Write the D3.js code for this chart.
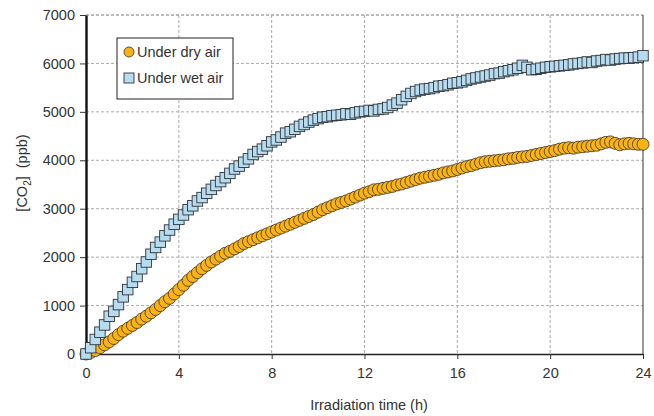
<!DOCTYPE html>
<html>
<head>
<meta charset="utf-8">
<script src="https://cdn.jsdelivr.net/npm/d3@7"></script>
<style>
  body { margin: 0; background: #fff; }
  text { font-family: "Liberation Sans", Arial, sans-serif; fill: #333; }
</style>
</head>
<body>
<script>
// Chart data
var timeHours = [
  0, 0.2, 0.4, 0.6, 0.8, 1, 1.2, 1.4, 1.6, 1.8, 2, 2.2, 2.4, 2.6, 2.8, 3, 3.2, 3.4, 3.6, 3.8,
  4, 4.2, 4.4, 4.6, 4.8, 5, 5.2, 5.4, 5.6, 5.8, 6, 6.2, 6.4, 6.6, 6.8, 7, 7.2, 7.4, 7.6, 7.8,
  8, 8.2, 8.4, 8.6, 8.8, 9, 9.2, 9.4, 9.6, 9.8, 10, 10.2, 10.4, 10.6, 10.8, 11, 11.2, 11.4, 11.6, 11.8,
  12, 12.2, 12.4, 12.6, 12.8, 13, 13.2, 13.4, 13.6, 13.8, 14, 14.2, 14.4, 14.6, 14.8, 15, 15.2, 15.4, 15.6, 15.8,
  16, 16.2, 16.4, 16.6, 16.8, 17, 17.2, 17.4, 17.6, 17.8, 18, 18.2, 18.4, 18.6, 18.8, 19, 19.2, 19.4, 19.6, 19.8,
  20, 20.2, 20.4, 20.6, 20.8, 21, 21.2, 21.4, 21.6, 21.8, 22, 22.2, 22.4, 22.6, 22.8, 23, 23.2, 23.4, 23.6, 23.8,
  24
];

var dryAir = [
  0, 30, 70, 130, 190, 250, 320, 400, 470, 530, 590, 650, 720, 780, 850, 920, 1000, 1080, 1150, 1240,
  1330, 1420, 1520, 1600, 1680, 1760, 1830, 1900, 1960, 2020, 2080, 2120, 2170, 2220, 2280, 2320, 2360, 2400, 2440, 2480,
  2520, 2560, 2600, 2640, 2680, 2720, 2760, 2800, 2840, 2880, 2930, 2980, 3020, 3060, 3100, 3130, 3160, 3200, 3240, 3280,
  3320, 3350, 3390, 3400, 3420, 3440, 3460, 3490, 3510, 3540, 3570, 3600, 3630, 3650, 3670, 3690, 3710, 3740, 3760, 3780,
  3810, 3840, 3870, 3890, 3920, 3950, 3970, 3980, 3990, 4000, 4010, 4030, 4040, 4060, 4070, 4080, 4100, 4120, 4140, 4160,
  4180, 4200, 4230, 4250, 4260, 4250, 4270, 4280, 4290, 4300, 4310, 4340, 4370, 4380, 4350, 4320, 4340, 4350, 4340, 4330,
  4330
];

var wetAir = [
  0, 130, 300, 450, 600, 780, 880, 1020, 1180, 1330, 1480, 1600, 1760, 1900, 2060, 2200, 2310, 2440, 2560, 2680,
  2780, 2870, 2980, 3060, 3160, 3230, 3320, 3400, 3480, 3560, 3640, 3730, 3820, 3880, 3960, 4030, 4120, 4180, 4230, 4300,
  4380, 4420, 4480, 4560, 4590, 4640, 4700, 4740, 4790, 4830, 4860, 4890, 4900, 4920, 4930, 4940, 4960, 4950, 4980, 5000,
  5010, 5030, 5020, 5050, 5060, 5090, 5140, 5180, 5250, 5320, 5380, 5420, 5450, 5470, 5480, 5500, 5530, 5540, 5560, 5590,
  5600, 5620, 5650, 5680, 5700, 5720, 5740, 5760, 5790, 5800, 5830, 5850, 5870, 5900, 5960, 5920, 5870, 5880, 5900, 5920,
  5930, 5940, 5950, 5960, 5970, 5990, 6000, 6010, 6030, 6020, 6050, 6060, 6080, 6070, 6090, 6100, 6110, 6110, 6120, 6130,
  6160
];

var xTicks = [0, 4, 8, 12, 16, 20, 24];
var yTicks = [0, 1000, 2000, 3000, 4000, 5000, 6000, 7000];
var seriesNames = ["Under dry air", "Under wet air"];

// SVG area
var svgWidth = 654;
var svgHeight = 416;

var chartMargin = { top: 15, right: 11, bottom: 62, left: 86 };
var chartWidth = svgWidth - chartMargin.left - chartMargin.right;
var chartHeight = svgHeight - chartMargin.top - chartMargin.bottom;

var svg = d3.select("body")
  .append("svg")
  .attr("width", svgWidth)
  .attr("height", svgHeight);

var chartGroup = svg.append("g")
  .attr("transform", `translate(${chartMargin.left}, ${chartMargin.top})`);

var xScale = d3.scaleLinear().domain([0, 24]).range([0, chartWidth]);
var yScale = d3.scaleLinear().domain([0, 7000]).range([chartHeight, 0]);

// dashed grid
chartGroup.selectAll(".hgrid")
  .data(yTicks.filter(d => d > 0))
  .enter()
  .append("line")
  .attr("x1", 0).attr("x2", chartWidth)
  .attr("y1", d => yScale(d)).attr("y2", d => yScale(d))
  .attr("stroke", d => d === 7000 ? "#777" : "#aaa")
  .attr("stroke-width", 1)
  .attr("stroke-dasharray", "3,2");

chartGroup.selectAll(".vgrid")
  .data(xTicks.filter(d => d > 0 && d < 24))
  .enter()
  .append("line")
  .attr("y1", 0).attr("y2", chartHeight)
  .attr("x1", d => xScale(d)).attr("x2", d => xScale(d))
  .attr("stroke", "#aaa")
  .attr("stroke-width", 1)
  .attr("stroke-dasharray", "3,2");

// right border
chartGroup.append("line")
  .attr("x1", chartWidth).attr("x2", chartWidth)
  .attr("y1", 0).attr("y2", chartHeight)
  .attr("stroke", "#333")
  .attr("stroke-width", 1);

// axes
var bottomAxis = d3.axisBottom(xScale).tickValues(xTicks).tickFormat(d3.format("d"))
  .tickSize(5).tickPadding(9).tickSizeOuter(0);
var leftAxis = d3.axisLeft(yScale).tickValues(yTicks).tickFormat(d3.format("d"))
  .tickSize(6).tickPadding(5).tickSizeOuter(0);

var xAxisG = chartGroup.append("g")
  .attr("transform", `translate(0, ${chartHeight})`)
  .call(bottomAxis);
xAxisG.select(".domain").attr("stroke", "#222").attr("stroke-width", 1.6);
xAxisG.selectAll(".tick line").attr("stroke", "#333");
xAxisG.selectAll("text").style("font-size", "14.5px").attr("fill", "#333")
  .style("font-family", "'Liberation Sans', Arial, sans-serif");

var yAxisG = chartGroup.append("g").call(leftAxis);
yAxisG.select(".domain").attr("stroke", "#111").attr("stroke-width", 2.4);
yAxisG.selectAll(".tick line").attr("stroke", "#333");
yAxisG.selectAll("text").style("font-size", "14.5px").attr("fill", "#333")
  .style("font-family", "'Liberation Sans', Arial, sans-serif");

// series
var dryData = timeHours.map((t, i) => ({ t: t, v: dryAir[i] }));
var wetData = timeHours.map((t, i) => ({ t: t, v: wetAir[i] }));

chartGroup.selectAll(".dry")
  .data(dryData)
  .enter()
  .append("circle")
  .attr("class", "dry")
  .attr("cx", d => xScale(d.t))
  .attr("cy", d => yScale(d.v))
  .attr("r", 6)
  .attr("fill", "#F9B317")
  .attr("stroke", "#3a3020")
  .attr("stroke-width", 0.8);

var sq = 10.5;
chartGroup.selectAll(".wet")
  .data(wetData)
  .enter()
  .append("rect")
  .attr("class", "wet")
  .attr("x", d => xScale(d.t) - sq / 2)
  .attr("y", d => yScale(d.v) - sq / 2)
  .attr("width", sq)
  .attr("height", sq)
  .attr("fill", "#B7DCF0")
  .attr("stroke", "#2e3338")
  .attr("stroke-width", 0.9);

// legend
var legend = svg.append("g");
legend.append("rect")
  .attr("x", 117).attr("y", 38)
  .attr("width", 116).attr("height", 61)
  .attr("fill", "#fff")
  .attr("stroke", "#222")
  .attr("stroke-width", 1);

legend.append("circle")
  .attr("cx", 129).attr("cy", 52).attr("r", 5)
  .attr("fill", "#F9B317").attr("stroke", "#3a3020").attr("stroke-width", 0.8);
legend.append("rect")
  .attr("x", 124).attr("y", 73).attr("width", 10).attr("height", 10)
  .attr("fill", "#B7DCF0").attr("stroke", "#2e3338").attr("stroke-width", 0.9);

legend.selectAll(".ltext")
  .data(seriesNames)
  .enter()
  .append("text")
  .attr("x", 137)
  .attr("y", (d, i) => 57 + i * 26)
  .style("font-size", "14.5px")
  .text(d => d);

// axis titles
svg.append("text")
  .attr("x", 369)
  .attr("y", 410)
  .attr("text-anchor", "middle")
  .style("font-size", "14.5px")
  .text("Irradiation time (h)");

var yTitle = svg.append("text")
  .attr("transform", "translate(27, 173) rotate(-90)")
  .attr("text-anchor", "middle")
  .style("font-size", "14.5px");
yTitle.append("tspan").text("[CO");
yTitle.append("tspan").attr("dy", 4).style("font-size", "10px").text("2");
yTitle.append("tspan").attr("dy", -4).text("]\u00a0\u00a0(ppb)");
</script>
</body>
</html>
